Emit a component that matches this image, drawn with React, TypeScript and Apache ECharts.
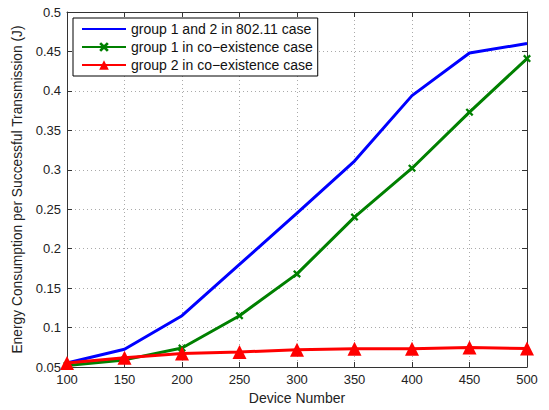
import React, { useEffect, useRef } from "react";
import * as echarts from "echarts";

const deviceNumbers = [100, 150, 200, 250, 300, 350, 400, 450, 500];
const group12Legacy = [0.055, 0.0725, 0.115, 0.18, 0.245, 0.311, 0.394, 0.448, 0.46];
const group1Coexist = [0.052, 0.059, 0.074, 0.115, 0.168, 0.24, 0.302, 0.373, 0.441];
const group2Coexist = [0.055, 0.0617, 0.067, 0.069, 0.072, 0.073, 0.073, 0.0746, 0.0735];
const seriesNames = [
  "group 1 and 2 in 802.11 case",
  "group 1 in co\u2212existence case",
  "group 2 in co\u2212existence case",
];

const FONT = "Liberation Sans, Arial, Helvetica, sans-serif";
const xShape = "path://M2,0 L5,3 L8,0 L10,2 L7,5 L10,8 L8,10 L5,7 L2,10 L0,8 L3,5 L0,2 Z";

export default function App() {
  const ref = useRef<HTMLDivElement>(null);
  useEffect(() => {
    if (!ref.current) return;
    const chart = echarts.init(ref.current, undefined, { renderer: "svg" });
    const pairs = (ys: number[]) => deviceNumbers.map((x, i) => [x, ys[i]]);
    const axisCommon = {
      axisLine: { show: true, lineStyle: { color: "#333", width: 1 } },
      axisTick: { show: true, inside: true, length: 5, lineStyle: { color: "#333" } },
    };
    chart.setOption({
      animation: false,
      backgroundColor: "#fff",
      textStyle: { fontFamily: FONT },
      grid: { left: 67, top: 12, right: 22, bottom: 38, containLabel: false },
      legend: {
        orient: "vertical",
        left: 73,
        top: 18,
        itemWidth: 44,
        itemHeight: 12,
        itemGap: 4,
        padding: [4, 5, 4, 8],
        borderColor: "#000",
        borderWidth: 1,
        backgroundColor: "#fff",
        textStyle: { fontSize: 14, color: "#111", fontFamily: FONT },
        data: [
          { name: seriesNames[0], itemStyle: { opacity: 0 } },
          { name: seriesNames[1] },
          { name: seriesNames[2] },
        ],
      },
      xAxis: [
        {
          type: "value",
          min: 100,
          max: 500,
          interval: 50,
          name: "Device Number",
          nameLocation: "middle",
          nameGap: 24,
          nameTextStyle: { fontSize: 14, color: "#222", fontFamily: FONT },
          axisLabel: { fontSize: 13, color: "#222", margin: 6, fontFamily: FONT },
          splitLine: { show: true, lineStyle: { color: "#aaa", type: [1, 3], width: 1 } },
          ...axisCommon,
        },
        {
          type: "value",
          position: "top",
          min: 100,
          max: 500,
          interval: 50,
          axisLabel: { show: false },
          splitLine: { show: false },
          ...axisCommon,
        },
      ],
      yAxis: [
        {
          type: "value",
          min: 0.05,
          max: 0.5,
          interval: 0.05,
          name: "Energy Consumption per Successful Transmission (J)",
          nameLocation: "middle",
          nameGap: 39,
          nameTextStyle: { fontSize: 13.8, color: "#222", fontFamily: FONT },
          axisLabel: {
            fontSize: 13,
            color: "#222",
            margin: 6,
            fontFamily: FONT,
            formatter: (v: number) => String(parseFloat(v.toFixed(2))),
          },
          splitLine: { show: true, lineStyle: { color: "#aaa", type: [1, 3], width: 1 } },
          ...axisCommon,
        },
        {
          type: "value",
          position: "right",
          min: 0.05,
          max: 0.5,
          interval: 0.05,
          axisLabel: { show: false },
          splitLine: { show: false },
          ...axisCommon,
        },
      ],
      series: [
        {
          name: seriesNames[0],
          type: "line",
          data: pairs(group12Legacy),
          symbol: "none",
          lineStyle: { color: "#0000ff", width: 3 },
          itemStyle: { color: "#0000ff" },
          z: 3,
        },
        {
          name: seriesNames[1],
          type: "line",
          data: pairs(group1Coexist),
          symbol: xShape,
          symbolSize: 8,
          lineStyle: { color: "#008000", width: 3 },
          itemStyle: { color: "#008000" },
          z: 4,
        },
        {
          name: seriesNames[2],
          type: "line",
          data: pairs(group2Coexist),
          symbol: "triangle",
          symbolSize: 14,
          lineStyle: { color: "#ff0000", width: 3 },
          itemStyle: { color: "#ff0000" },
          z: 5,
        },
      ],
    });
    return () => chart.dispose();
  }, []);
  return <div ref={ref} style={{ width: 549, height: 410, position: "absolute", left: 0, top: 0 }} />;
}
